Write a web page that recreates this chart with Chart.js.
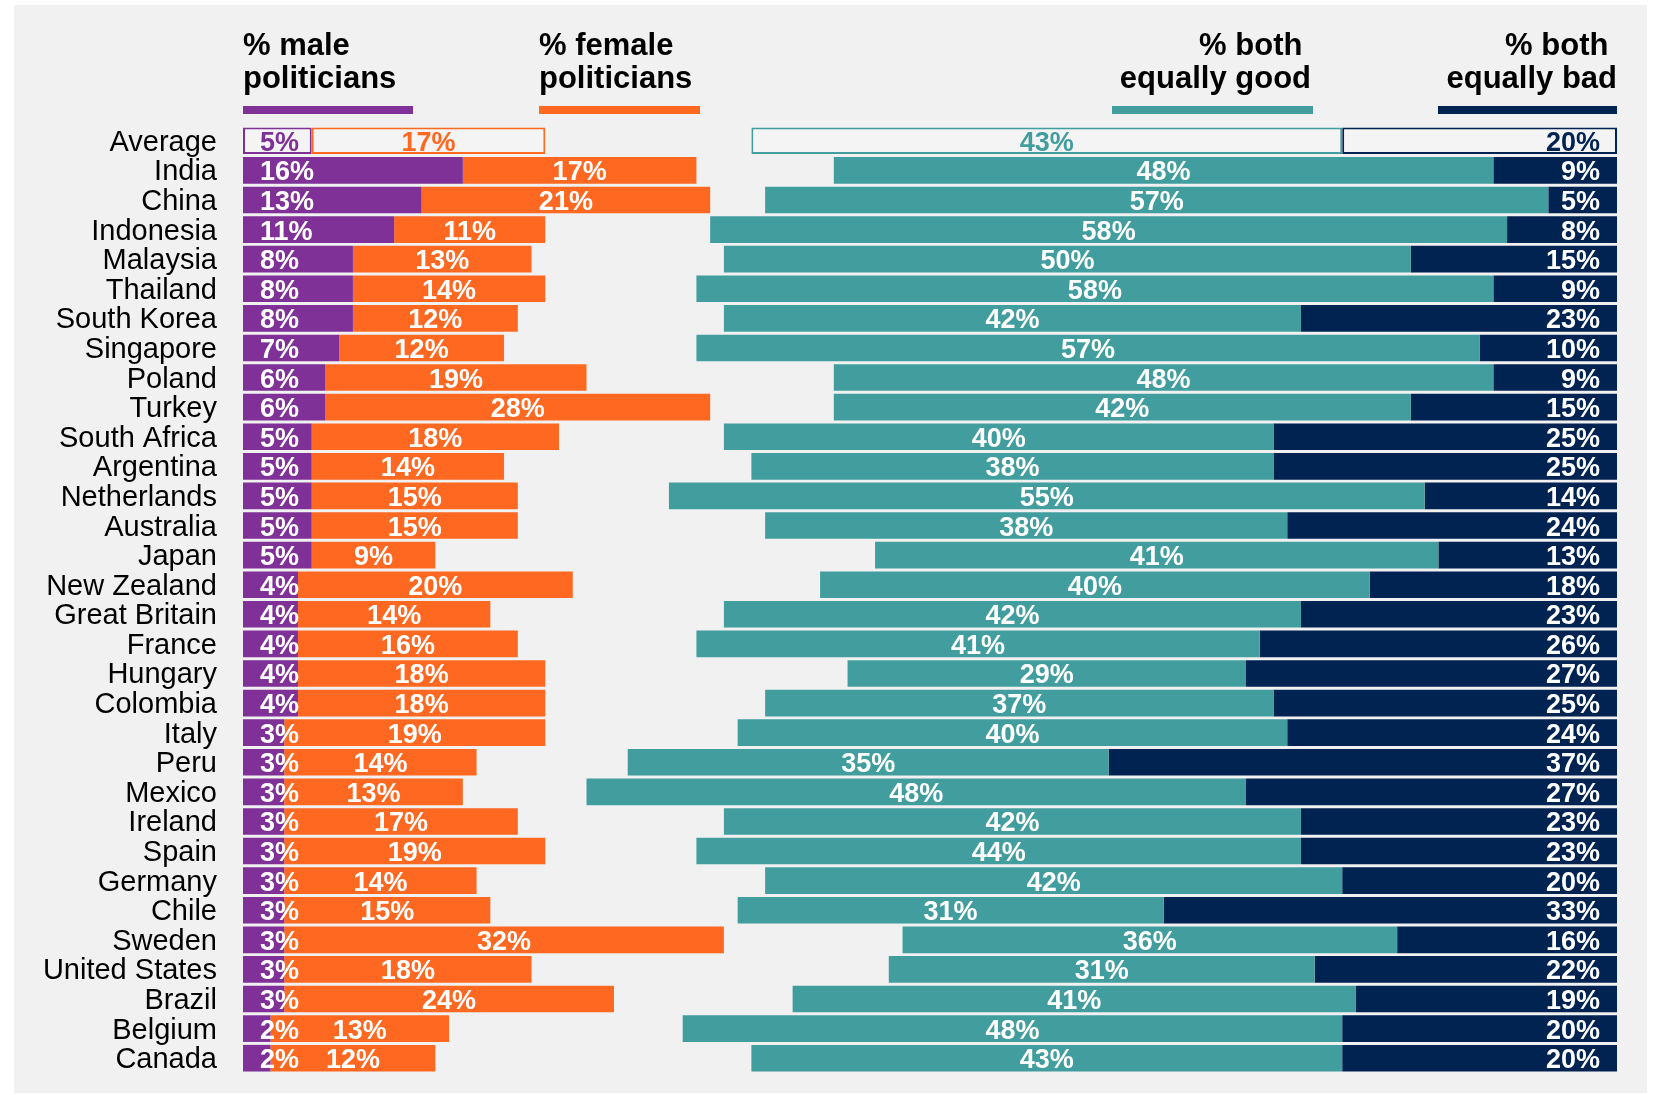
<!DOCTYPE html>
<html lang="en">
<head>
<meta charset="utf-8">
<title>Male vs female politicians</title>
<script src="https://cdn.jsdelivr.net/npm/chart.js@4.4.1/dist/chart.umd.min.js"></script>
<style>
    html, body { margin: 0; padding: 0; background: #ffffff; }
    #wrap { width: 1658px; height: 1095px; }
</style>
</head>
<body>
<div id="wrap"><canvas id="politiciansChart" width="1658" height="1095"></canvas></div>
<script>
// Datos del gráfico
const countries = ['Average', 'India', 'China', 'Indonesia', 'Malaysia', 'Thailand', 'South Korea',
    'Singapore', 'Poland', 'Turkey', 'South Africa', 'Argentina', 'Netherlands', 'Australia', 'Japan',
    'New Zealand', 'Great Britain', 'France', 'Hungary', 'Colombia', 'Italy', 'Peru', 'Mexico',
    'Ireland', 'Spain', 'Germany', 'Chile', 'Sweden', 'United States', 'Brazil', 'Belgium', 'Canada'];
const malePct     = [5, 16, 13, 11, 8, 8, 8, 7, 6, 6, 5, 5, 5, 5, 5, 4, 4, 4, 4, 4, 3, 3, 3, 3, 3, 3, 3, 3, 3, 3, 2, 2];
const femalePct   = [17, 17, 21, 11, 13, 14, 12, 12, 19, 28, 18, 14, 15, 15, 9, 20, 14, 16, 18, 18, 19, 14, 13, 17, 19, 14, 15, 32, 18, 24, 13, 12];
const bothGoodPct = [43, 48, 57, 58, 50, 58, 42, 57, 48, 42, 40, 38, 55, 38, 41, 40, 42, 41, 29, 37, 40, 35, 48, 42, 44, 42, 31, 36, 31, 41, 48, 43];
const bothBadPct  = [20, 9, 5, 8, 15, 9, 23, 10, 9, 15, 25, 25, 14, 24, 13, 18, 23, 26, 27, 25, 24, 37, 27, 23, 23, 20, 33, 16, 22, 19, 20, 20];

const PURPLE = '#7f3197';
const ORANGE = '#ff6820';
const TEAL = '#429e9e';
const NAVY = '#002352';
const PANEL = '#f1f1f1';
const FONT = '"Liberation Sans", Arial, sans-serif';

// Barras flotantes: izquierda desde 0, derecha terminando en 100
const maleBars = malePct.map(m => [0, m]);
const femaleBars = malePct.map((m, i) => [m, m + femalePct[i]]);
const goodBars = bothGoodPct.map((g, i) => [100 - bothBadPct[i] - g, 100 - bothBadPct[i]]);
const badBars = bothBadPct.map(b => [100 - b, 100]);

// La fila "Average" se dibuja solo con contorno
function seriesStyle(color) {
    return {
        backgroundColor: ctx => ctx.dataIndex === 0 ? '#f4f4f4' : color,
        borderColor: color,
        borderWidth: ctx => ctx.dataIndex === 0 ? 2 : 0,
        borderSkipped: false,
        grouped: false,
        barPercentage: 0.9,
        categoryPercentage: 1.0
    };
}

const panelBackground = {
    id: 'panelBackground',
    beforeDraw(chart) {
        const ctx = chart.ctx;
        ctx.save();
        ctx.fillStyle = PANEL;
        ctx.fillRect(14, 5, 1633, 1088);
        ctx.restore();
    }
};

// Encabezados con línea de color
const headerLegend = {
    id: 'headerLegend',
    afterDraw(chart) {
        const ctx = chart.ctx;
        const headers = [
            { lines: ['% male', 'politicians'], x: 243, align: 'left', color: PURPLE, x0: 243, x1: 413 },
            { lines: ['% female', 'politicians'], x: 539, align: 'left', color: ORANGE, x0: 539, x1: 700 },
            { lines: ['% both ', 'equally good'], x: 1311, align: 'right', color: TEAL, x0: 1112, x1: 1313 },
            { lines: ['% both ', 'equally bad'], x: 1617, align: 'right', color: NAVY, x0: 1438, x1: 1617 }
        ];
        ctx.save();
        ctx.font = 'bold 31px ' + FONT;
        ctx.fillStyle = '#000000';
        ctx.textBaseline = 'alphabetic';
        headers.forEach(h => {
            ctx.textAlign = h.align;
            ctx.fillText(h.lines[0], h.x, 55);
            ctx.fillText(h.lines[1], h.x, 88);
        });
        headers.forEach(h => {
            ctx.fillStyle = h.color;
            ctx.fillRect(h.x0, 106, h.x1 - h.x0, 8);
        });
        ctx.restore();
    }
};

// Etiquetas de valor dentro de las barras
const barLabels = {
    id: 'barLabels',
    afterDatasetsDraw(chart) {
        const ctx = chart.ctx;
        ctx.save();
        ctx.font = 'bold 27px ' + FONT;
        ctx.textBaseline = 'alphabetic';
        chart.data.datasets.forEach((ds, di) => {
            const meta = chart.getDatasetMeta(di);
            meta.data.forEach((bar, i) => {
                const left = Math.min(bar.x, bar.base);
                const right = Math.max(bar.x, bar.base);
                const y = bar.y + 10;
                ctx.fillStyle = i === 0 ? ds.seriesColor : '#ffffff';
                const text = ds.values[i] + '%';
                if (ds.labelAlign === 'left') {
                    ctx.textAlign = 'left';
                    ctx.fillText(text, left + 17, y);
                } else if (ds.labelAlign === 'right') {
                    ctx.textAlign = 'right';
                    ctx.fillText(text, right - 17, y);
                } else {
                    ctx.textAlign = 'center';
                    ctx.fillText(text, (left + right) / 2, y);
                }
            });
        });
        ctx.restore();
    }
};

const chartCtx = document.getElementById('politiciansChart').getContext('2d');
new Chart(chartCtx, {
    type: 'bar',
    data: {
        labels: countries,
        datasets: [
            Object.assign({ label: '% male politicians', data: maleBars, values: malePct, seriesColor: PURPLE, labelAlign: 'left' }, seriesStyle(PURPLE)),
            Object.assign({ label: '% female politicians', data: femaleBars, values: femalePct, seriesColor: ORANGE, labelAlign: 'center' }, seriesStyle(ORANGE)),
            Object.assign({ label: '% both equally good', data: goodBars, values: bothGoodPct, seriesColor: TEAL, labelAlign: 'center' }, seriesStyle(TEAL)),
            Object.assign({ label: '% both equally bad', data: badBars, values: bothBadPct, seriesColor: NAVY, labelAlign: 'right' }, seriesStyle(NAVY))
        ]
    },
    options: {
        indexAxis: 'y',
        responsive: false,
        animation: false,
        devicePixelRatio: 1,
        layout: {
            padding: { left: 0, right: 41, top: 126, bottom: 22 }
        },
        plugins: {
            legend: { display: false },
            tooltip: { enabled: false }
        },
        scales: {
            x: {
                display: false,
                min: 0,
                max: 100
            },
            y: {
                afterFit: scale => {
                    scale.width = 243;
                    scale.paddingTop = 0;
                    scale.paddingBottom = 0;
                },
                grid: { display: false, drawTicks: false },
                border: { display: false },
                ticks: {
                    color: '#000000',
                    padding: 26,
                    labelOffset: 2,
                    autoSkip: false,
                    font: { family: FONT, size: 29 }
                }
            }
        }
    },
    plugins: [panelBackground, headerLegend, barLabels]
});
</script>
</body>
</html>
